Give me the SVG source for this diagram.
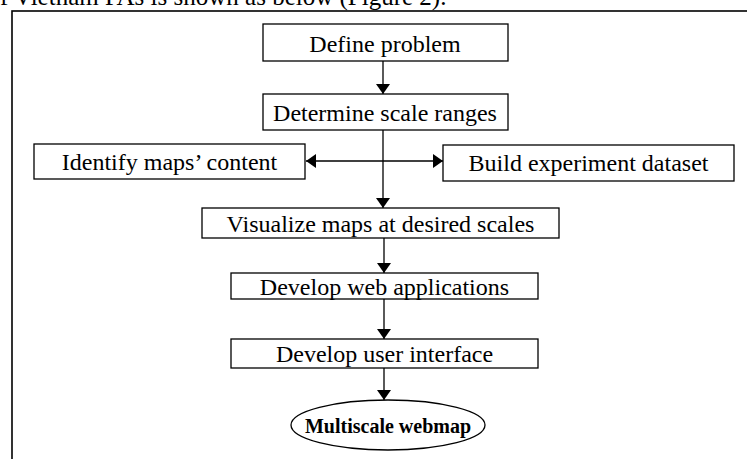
<svg xmlns="http://www.w3.org/2000/svg" width="747" height="459" viewBox="0 0 747 459">
  <style>
    .box { fill: #ffffff; stroke: #000000; stroke-width: 1.3; }
    .lbl { font-family: "Liberation Serif", "Times New Roman", serif; font-size: 24px; fill: #000000; text-anchor: middle; }
    .bold { font-weight: bold; font-size: 20px; }
    .edge { stroke: #000000; stroke-width: 1.3; fill: none; }
  </style>
  <defs>
    <marker id="arrow" viewBox="0 0 10 14" refX="10" refY="7" markerWidth="10" markerHeight="14" markerUnits="userSpaceOnUse" orient="auto">
      <path d="M0,0 L10,7 L0,14 Z" fill="#000000"/>
    </marker>
  </defs>

  <rect width="747" height="459" fill="#ffffff"/>

  <!-- running text line above the figure -->
  <text x="0" y="5" font-family="Liberation Serif, Times New Roman, serif" font-size="25" fill="#000000">f Vietnam PAs is shown as below (Figure 2).</text>

  <!-- figure frame -->
  <rect x="12" y="11" width="800" height="500" fill="none" stroke="#000000" stroke-width="1.6"/>

  <g id="connectors">
    <line class="edge" x1="383" y1="61" x2="383" y2="94" marker-end="url(#arrow)"/>
    <line class="edge" x1="383" y1="130" x2="383" y2="208" marker-end="url(#arrow)"/>
    <line class="edge" x1="383" y1="161" x2="306" y2="161" marker-end="url(#arrow)"/>
    <line class="edge" x1="383" y1="161" x2="443" y2="161" marker-end="url(#arrow)"/>
    <line class="edge" x1="384" y1="238" x2="384" y2="273" marker-end="url(#arrow)"/>
    <line class="edge" x1="384" y1="299" x2="384" y2="339" marker-end="url(#arrow)"/>
    <line class="edge" x1="384" y1="368" x2="384" y2="400" marker-end="url(#arrow)"/>
  </g>

  <g id="define-problem">
    <rect class="box" x="263" y="24" width="245" height="37"/>
    <text class="lbl" x="385" y="52">Define problem</text>
  </g>

  <g id="determine-scale-ranges">
    <rect class="box" x="263" y="94" width="245" height="36"/>
    <text class="lbl" x="385" y="121">Determine scale ranges</text>
  </g>

  <g id="identify-maps-content">
    <rect class="box" x="34" y="144" width="271" height="35"/>
    <text class="lbl" x="169.5" y="169.5">Identify maps’ content</text>
  </g>

  <g id="build-experiment-dataset">
    <rect class="box" x="443" y="145" width="291" height="36"/>
    <text class="lbl" x="588.5" y="171">Build experiment dataset</text>
  </g>

  <g id="visualize-maps">
    <rect class="box" x="202" y="208" width="357" height="30"/>
    <text class="lbl" x="380.5" y="232">Visualize maps at desired scales</text>
  </g>

  <g id="develop-web-applications">
    <rect class="box" x="231" y="273" width="307" height="26"/>
    <text class="lbl" x="384.5" y="295">Develop web applications</text>
  </g>

  <g id="develop-user-interface">
    <rect class="box" x="231" y="339" width="307" height="29"/>
    <text class="lbl" x="384.5" y="362">Develop user interface</text>
  </g>

  <g id="multiscale-webmap">
    <ellipse class="box" cx="388" cy="425" rx="97" ry="25"/>
    <text class="lbl bold" x="388" y="433">Multiscale webmap</text>
  </g>
</svg>
